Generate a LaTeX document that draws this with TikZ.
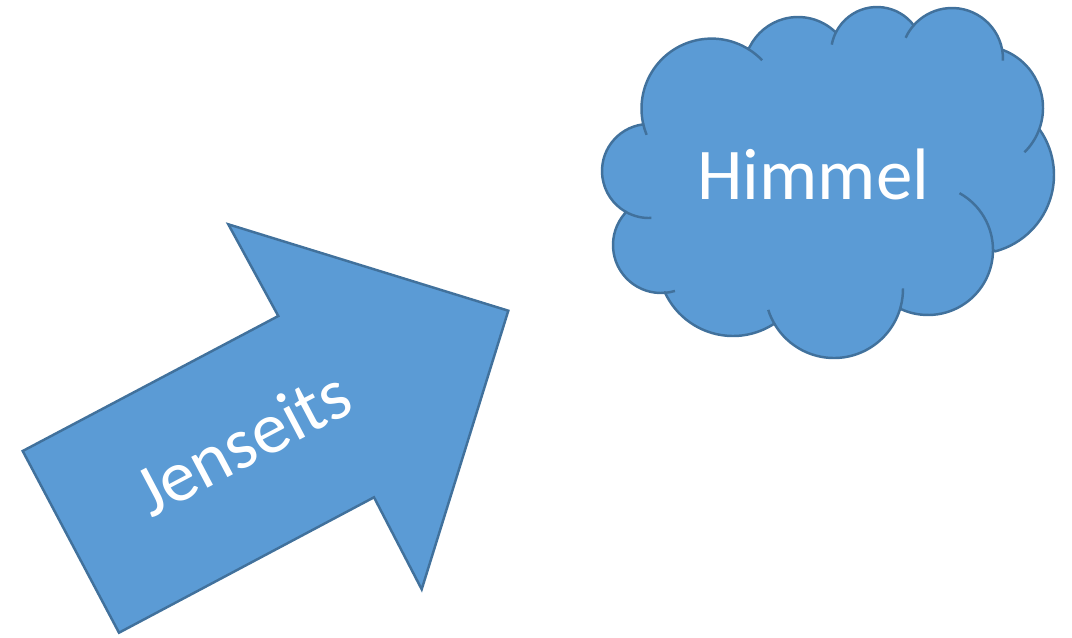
\documentclass[tikz,border=0pt]{standalone}
\usepackage{fontspec}
\setmainfont{Carlito}
\usepackage{xcolor}
\usepackage{tikz}
\definecolor{shapeblue}{HTML}{5B9BD5}
\definecolor{edgeblue}{HTML}{41719C}
\tikzset{
  shapebody/.style={fill=shapeblue, draw=edgeblue, line width=1.4pt, line join=miter},
  puffline/.style={draw=edgeblue, line width=1.4pt},
  shapetext/.style={text=white, inner sep=0pt, font=\fontsize{41.5}{50}\selectfont}
}

\begin{document}
\begin{tikzpicture}[x=0.02cm, y=0.02cm]
		\useasboundingbox (0,0) rectangle (1072,-637);
		%Arrow towards the cloud
		\filldraw[shapebody] (22.7,-451) -- (278.3,-316) -- (228.3,-224.3) -- (508.3,-310.7)
			-- (421.7,-589.3) -- (374,-497.3) -- (119,-632.7) -- cycle;
		\node[shapetext, anchor=base, rotate=27.8] (jenseits) at (254,-464) {Jenseits};
		%Centres of the puffs of the cloud
		\coordinate (cA) at (649,-171);
		\coordinate (cB) at (661,-245);
		\coordinate (cC) at (733,-261);
		\coordinate (cD) at (834,-289);
		\coordinate (cE) at (928,-250);
		\coordinate (cF) at (975,-175);
		\coordinate (cG) at (981,-108);
		\coordinate (cH) at (952,-59);
		\coordinate (cI) at (877,-53);
		\coordinate (cJ) at (798,-71);
		\coordinate (cK) at (711.5,-108.6);
		%Outline of the cloud
		\filldraw[shapebody, line join=round]
			([shift={(98.1:47)}]cA) arc[start angle=98.1, end angle=240.1, radius=47]
			-- ([shift={(138.9:48)}]cB) arc[start angle=138.9, end angle=274.5, radius=48]
			-- ([shift={(204.6:75)}]cC) arc[start angle=204.6, end angle=303.1, radius=75]
			-- ([shift={(211.3:69)}]cD) arc[start angle=211.3, end angle=345.3, radius=69]
			-- ([shift={(245.1:65)}]cE) arc[start angle=245.1, end angle=360, radius=65]
			-- ([shift={(-75.1:79)}]cF) arc[start angle=-75.1, end angle=34.7, radius=79]
			-- ([shift={(-20.4:62)}]cG) arc[start angle=-20.4, end angle=69, radius=62]
			-- ([shift={(10:51)}]cH) arc[start angle=10, end angle=138.7, radius=51]
			-- ([shift={(37.6:46)}]cI) arc[start angle=37.6, end angle=152.9, radius=46]
			-- ([shift={(45.7:54)}]cJ) arc[start angle=45.7, end angle=153.3, radius=54]
			-- ([shift={(58.3:70)}]cK) arc[start angle=58.3, end angle=192.5, radius=70]
			-- cycle;
		%Small inner arcs of the puffs
		\draw[puffline] ([shift={(240.1:47)}]cA) arc[start angle=240.1, end angle=272.8, radius=47];
		\draw[puffline] ([shift={(274.5:48)}]cB) arc[start angle=274.5, end angle=286.9, radius=48];
		\draw[puffline] ([shift={(197.6:69)}]cD) arc[start angle=197.6, end angle=211.3, radius=69];
		\draw[puffline] ([shift={(345.3:69)}]cD) arc[start angle=345.3, end angle=360.6, radius=69];
		\draw[puffline] ([shift={(0:65)}]cE) arc[start angle=0, end angle=61, radius=65];
		\draw[puffline] ([shift={(-45.5:62)}]cG) arc[start angle=-45.5, end angle=-20.4, radius=62];
		\draw[puffline] ([shift={(-1.9:51)}]cH) arc[start angle=-1.9, end angle=10, radius=51];
		\draw[puffline] ([shift={(138.7:51)}]cH) arc[start angle=138.7, end angle=155.4, radius=51];
		\draw[puffline] ([shift={(152.9:46)}]cI) arc[start angle=152.9, end angle=169.5, radius=46];
		\draw[puffline] ([shift={(43.7:70)}]cK) arc[start angle=43.7, end angle=58.3, radius=70];
		\draw[puffline] ([shift={(192.5:70)}]cK) arc[start angle=192.5, end angle=202, radius=70];
		\node[shapetext, anchor=base] (himmel) at (813.3,-199) {Himmel};
\end{tikzpicture}
\end{document}
